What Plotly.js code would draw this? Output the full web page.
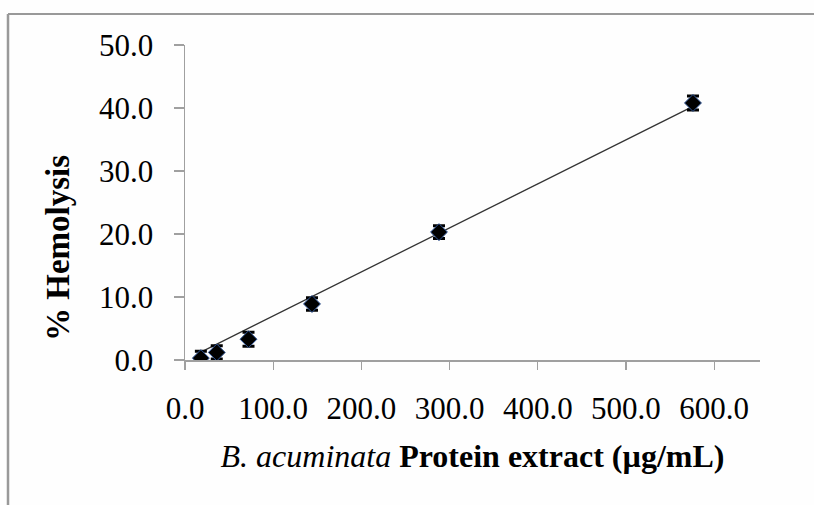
<!DOCTYPE html>
<html>
<head>
<meta charset="utf-8">
<script src="https://cdn.plot.ly/plotly-3.0.1.min.js"></script>
<style>html,body{margin:0;padding:0;background:#fefefe;}#chart{width:814px;height:505px;}</style>
</head>
<body>
<div id="chart"></div>
<script>
// Data
const concentration = [18, 36, 72, 144, 288, 576];          // µg/mL
const hemolysis     = [0.3, 1.2, 3.3, 8.9, 20.3, 40.8];     // %
const hemolysisErr  = [1.1, 1.05, 1.1, 1.0, 1.0, 1.1];
const xTickVals = [0, 100, 200, 300, 400, 500, 600];
const yTickVals = [0, 10, 20, 30, 40, 50];

// Linear trendline through the origin (least squares), computed from the data
let sxy = 0, sxx = 0;
concentration.forEach((x, i) => { sxy += x * hemolysis[i]; sxx += x * x; });
const slope = sxy / sxx;
const trendX = [concentration[0], concentration[concentration.length - 1]];
const trendY = trendX.map(x => slope * x);

const serif = 'Liberation Serif, Times New Roman, serif';

const traces = [
  {
    x: trendX, y: trendY, type: 'scatter', mode: 'lines',
    line: {color: '#333333', width: 1.3}, hoverinfo: 'skip', showlegend: false
  },
  {
    x: concentration, y: hemolysis, type: 'scatter', mode: 'markers',
    marker: {symbol: 'diamond', size: 13, color: '#000000', line: {color: '#2f5597', width: 1}},
    error_y: {type: 'data', array: hemolysisErr, visible: true, color: '#000000', thickness: 3, width: 6},
    showlegend: false
  }
];

const L = 185, R = 54, T = 45, B = 145, W = 814, H = 505;
const pw = W - L - R, ph = H - T - B;
const px = p => (p - L) / pw;
const py = p => (H - B - p) / ph;

const layout = {
  width: W, height: H,
  margin: {l: L, r: R, t: T, b: B},
  paper_bgcolor: '#fefefe', plot_bgcolor: '#fefefe',
  font: {family: serif, color: '#000000'},
  xaxis: {
    range: [0, 652], tickvals: xTickVals, tickformat: '.1f',
    showgrid: false, zeroline: false, showline: true, linecolor: '#a0a0a0', linewidth: 1.5,
    ticks: 'outside', ticklen: 8, tickcolor: '#a0a0a0', tickwidth: 1.2, ticklabelstandoff: 12,
    tickfont: {family: serif, size: 31, color: '#000000'},
    title: {text: '<i>B. acuminata</i> <b>Protein extract (µg/mL)</b>', font: {family: serif, size: 32, color: '#000'}, standoff: 20}
  },
  yaxis: {
    range: [0, 50], tickvals: yTickVals, tickformat: '.1f',
    showgrid: false, zeroline: false, showline: true, linecolor: '#a0a0a0', linewidth: 1.5,
    ticks: 'outside', ticklen: 10, tickcolor: '#a0a0a0', tickwidth: 1.2, ticklabelstandoff: 14,
    tickfont: {family: serif, size: 31, color: '#000000'}
  },
  annotations: [{
    text: '<b>% Hemolysis</b>', textangle: -90, showarrow: false,
    xref: 'paper', yref: 'paper', x: px(58), y: py(248), xanchor: 'center', yanchor: 'middle',
    font: {family: serif, size: 33, color: '#000'}
  }],
  shapes: [
    {type: 'line', xref: 'paper', yref: 'paper', x0: px(8), x1: px(8), y0: py(14), y1: py(505), line: {color: '#999999', width: 2.5}},
    {type: 'line', xref: 'paper', yref: 'paper', x0: px(8), x1: px(814), y0: py(14), y1: py(14), line: {color: '#999999', width: 2}}
  ]
};

Plotly.newPlot('chart', traces, layout, {displayModeBar: false, staticPlot: true});
</script>
</body>
</html>
